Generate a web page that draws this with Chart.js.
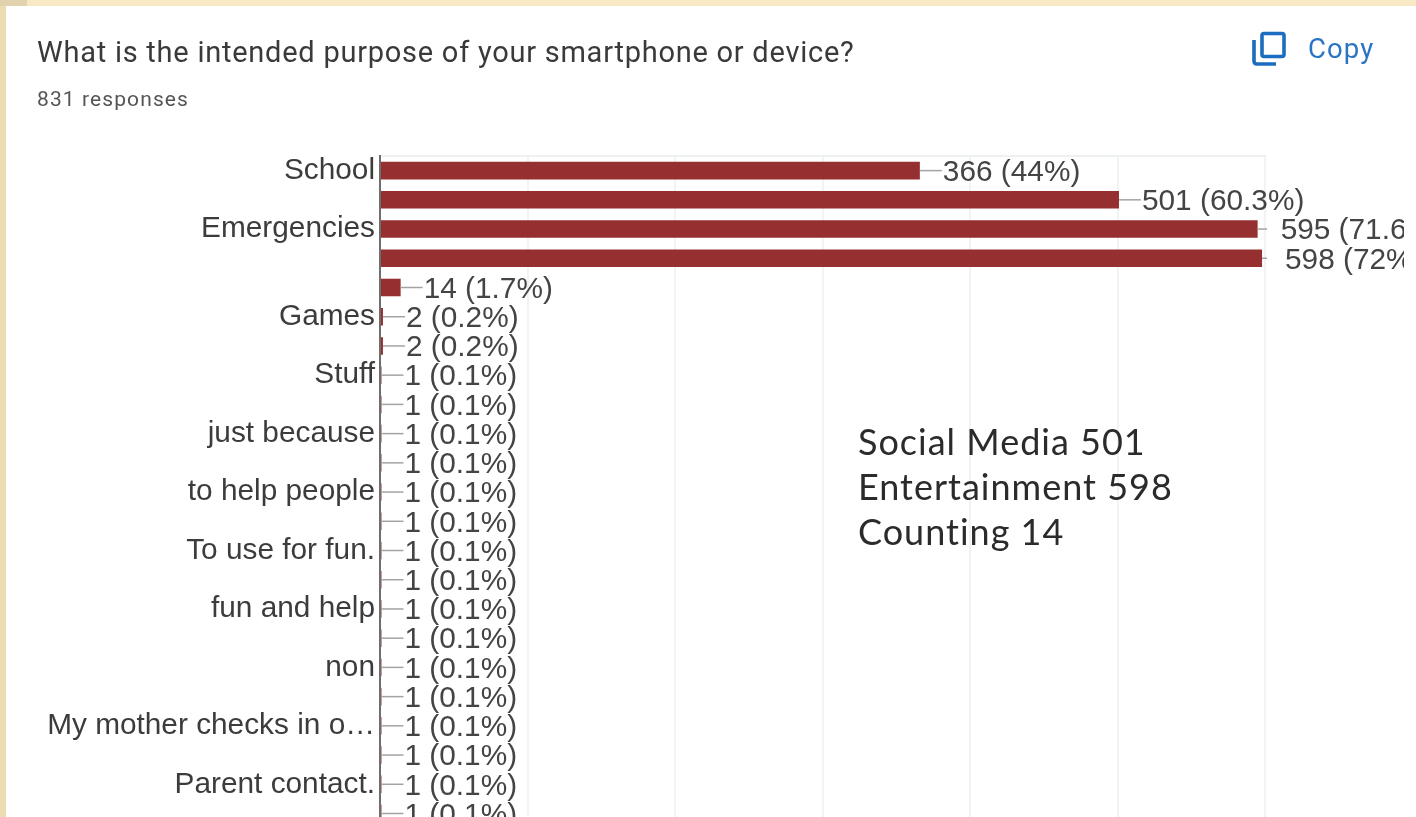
<!DOCTYPE html>
<html>
<head>
<meta charset="utf-8">
<title>Smartphone purpose responses</title>
<script src="https://cdn.jsdelivr.net/npm/chart.js@4"></script>
<style>
    html, body { margin: 0; padding: 0; width: 1416px; height: 817px; overflow: hidden; background: #fff; }
    .edge-top { position: absolute; left: 0; top: 0; width: 1416px; height: 6px; background: #f6e9c4; }
    .edge-left { position: absolute; left: 0; top: 0; width: 6px; height: 817px; background: #ecdcb0; }
    .edge-corner { position: absolute; left: 0; top: 0; width: 27px; height: 6px; background: #e0d3ad; }
    #chartBox { position: absolute; left: 0; top: 0; width: 1416px; height: 817px; overflow: hidden; }
    .title { position: absolute; left: 37px; top: 35px; font: 29px Roboto, sans-serif; letter-spacing: 0.75px; color: #3a3a3a; white-space: nowrap; }
    .count { position: absolute; left: 37px; top: 87px; font: 21px Roboto, sans-serif; letter-spacing: 1.1px; color: #555; white-space: nowrap; }
    .copy { position: absolute; left: 1308px; top: 32px; font: 27.5px Roboto, sans-serif; letter-spacing: 1.1px; color: #2a74c4; }
    .icon { position: absolute; left: 1250px; top: 30px; }
    .note { position: absolute; left: 858px; top: 419px; font: 36px/45px Lato, sans-serif; letter-spacing: 1px; color: #2b2b2b; white-space: nowrap; }
</style>
</head>
<body>
<div id="chartBox"><canvas id="purposeChart" width="1416" height="851"></canvas></div>
<div class="edge-top"></div>
<div class="edge-left"></div>
<div class="edge-corner"></div>
<div class="title">What is the intended purpose of your smartphone or device?</div>
<div class="count">831 responses</div>
<svg class="icon" width="40" height="40" viewBox="0 0 40 40" fill="none" stroke="#1c6dbf" stroke-width="3.6">
    <rect x="12" y="3.5" width="22" height="23" rx="2"></rect>
    <path d="M4 10 V31 Q4 34 7 34 H26"></path>
</svg>
<div class="copy">Copy</div>
<div class="note" id="note"></div>

<script>
const categories = ['School', '', 'Emergencies', '', '', 'Games', '', 'Stuff', '', 'just because', '', 'to help people', '',
    'To use for fun.', '', 'fun and help', '', 'non', '', 'My mother checks in o…', '', 'Parent contact.', ''];
const responses = [366, 501, 595, 598, 14, 2, 2, 1, 1, 1, 1, 1, 1, 1, 1, 1, 1, 1, 1, 1, 1, 1, 1];
const percents = ['44%', '60.3%', '71.6%', '72%', '1.7%', '0.2%', '0.2%', '0.1%', '0.1%', '0.1%', '0.1%', '0.1%',
    '0.1%', '0.1%', '0.1%', '0.1%', '0.1%', '0.1%', '0.1%', '0.1%', '0.1%', '0.1%', '0.1%'];
const noteLines = ['Social Media 501', 'Entertainment 598', 'Counting 14'];

const labelFont = '29.8px "Liberation Sans", Arial, sans-serif';

document.getElementById('note').innerHTML = noteLines.join('<br>');

// leader line plus "count (percent)" text after each bar
const valueLabels = {
    id: 'valueLabels',
    afterDatasetsDraw(chart) {
        const ctx = chart.ctx;
        const x = chart.scales.x;
        const y = chart.scales.y;
        ctx.save();
        ctx.font = labelFont;
        ctx.textBaseline = 'middle';
        responses.forEach(function (value, i) {
            const end = x.getPixelForValue(value);
            const mid = y.getPixelForValue(i);
            ctx.strokeStyle = '#a3a3a3';
            ctx.lineWidth = 1.5;
            ctx.beginPath();
            ctx.moveTo(end, mid);
            ctx.lineTo(Math.min(end + 22, x.right + 2), mid);
            ctx.stroke();
        });
        // long labels get cut off at the right edge of the frame
        ctx.beginPath();
        ctx.rect(0, 0, 1404, chart.height);
        ctx.clip();
        ctx.fillStyle = '#444';
        responses.forEach(function (value, i) {
            const end = x.getPixelForValue(value);
            const mid = y.getPixelForValue(i);
            ctx.fillText(value + ' (' + percents[i] + ')', end + 23, mid + 2);
        });
        ctx.restore();
    }
};

new Chart(document.getElementById('purposeChart').getContext('2d'), {
    type: 'bar',
    data: {
        labels: categories,
        datasets: [{
            data: responses,
            backgroundColor: '#962f30',
            barPercentage: 0.6,
            categoryPercentage: 1
        }]
    },
    options: {
        indexAxis: 'y',
        responsive: false,
        animation: false,
        layout: { padding: { top: 156, right: 151, bottom: 0, left: 0 } },
        plugins: { legend: { display: false }, tooltip: { enabled: false } },
        scales: {
            x: {
                position: 'top',
                min: 0,
                max: 600,
                ticks: { display: false, stepSize: 100 },
                grid: { color: '#f1f4f5', lineWidth: 2, drawTicks: false },
                border: { display: true, color: '#eef1f3', width: 2 }
            },
            y: {
                afterFit(scale) { scale.width = 380; },
                ticks: {
                    autoSkip: false,
                    padding: 5,
                    color: '#3c3c3c',
                    font: { family: '"Liberation Sans", Arial, sans-serif', size: 29.8 }
                },
                grid: { display: false, drawTicks: false },
                border: { color: '#6e6e6e', width: 2 }
            }
        }
    },
    plugins: [valueLabels]
});
</script>
</body>
</html>
